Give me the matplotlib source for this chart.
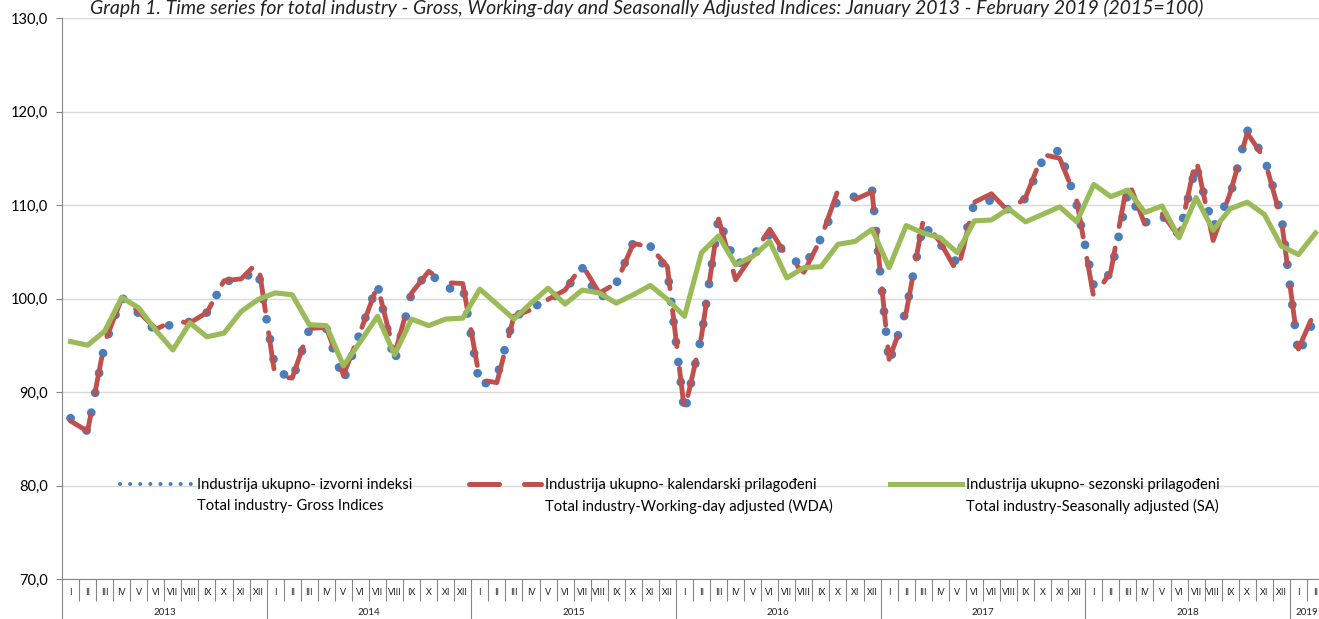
import numpy as np
import matplotlib
matplotlib.use('Agg')
import matplotlib.pyplot as plt
from matplotlib.lines import Line2D
from matplotlib.ticker import FuncFormatter
import matplotlib.transforms as mtransforms

# monthly indices, Jan 2013 - Feb 2019
gross = [87.2, 85.8, 95.0, 100.1, 98.4, 96.5, 97.3, 97.5, 98.5, 101.8, 102.1, 103.0,
         92.5, 91.3, 96.7, 96.8, 91.2, 96.5, 101.5, 93.2, 100.6, 102.9, 101.0, 101.3,
         90.6, 91.6, 98.0, 99.0, 99.8, 100.9, 103.3, 99.9, 101.6, 106.0, 105.6, 103.0,
         87.8, 96.0, 108.6, 103.6, 104.5, 106.9, 104.6, 103.4, 106.4, 110.6, 110.9, 111.6,
         93.1, 98.8, 107.9, 105.8, 103.8, 110.2, 110.5, 109.5, 110.7, 114.8, 115.9, 110.0,
         101.3, 102.7, 111.3, 108.1, 108.9, 106.8, 114.2, 107.6, 111.0, 118.0, 115.1, 108.9,
         94.0, 98.1]
wda = [86.9, 85.8, 95.3, 100.0, 98.6, 96.7, 97.6, 97.4, 98.5, 101.9, 102.1, 103.9,
       91.6, 91.5, 96.8, 96.9, 91.8, 96.5, 101.4, 94.0, 100.6, 102.9, 101.7, 101.6,
       91.3, 91.0, 98.1, 98.8, 99.9, 100.9, 103.6, 100.6, 101.6, 105.9, 105.5, 103.4,
       88.0, 96.0, 108.5, 102.0, 104.7, 107.4, 104.5, 102.8, 106.4, 111.6, 110.6, 111.4,
       93.5, 98.5, 108.4, 106.0, 102.8, 110.3, 111.2, 109.3, 110.8, 115.4, 115.0, 110.5,
       100.1, 102.9, 112.7, 107.9, 109.1, 106.6, 115.0, 106.2, 111.3, 117.7, 115.0, 108.4,
       94.6, 98.8]
sa = [95.4, 95.0, 96.5, 100.1, 99.0, 96.6, 94.5, 97.4, 95.9, 96.3, 98.6, 99.9,
      100.6, 100.4, 97.2, 97.1, 92.8, 95.4, 98.1, 94.0, 97.8, 97.1, 97.8, 97.9,
      101.0, 99.4, 97.8, 99.5, 101.1, 99.4, 100.9, 100.6, 99.5, 100.4, 101.4, 99.9,
      98.1, 104.9, 106.7, 103.6, 104.5, 106.1, 102.2, 103.3, 103.4, 105.8, 106.1, 107.4,
      103.3, 107.8, 107.0, 106.5, 104.9, 108.3, 108.4, 109.6, 108.2, 109.0, 109.8, 108.2,
      112.2, 110.9, 111.6, 109.2, 109.9, 106.5, 110.8, 107.3, 109.6, 110.3, 109.0, 105.6,
      104.7, 107.0]

months = ["I", "II", "III", "IV", "V", "VI", "VII", "VIII", "IX", "X", "XI", "XII"]
years = ["2013", "2014", "2015", "2016", "2017", "2018", "2019"]

labels = [
    "Industrija ukupno- izvorni indeksi", "Total industry- Gross Indices",
    "Industrija ukupno- kalendarski prilagođeni", "Total industry-Working-day adjusted (WDA)",
    "Industrija ukupno- sezonski prilagođeni", "Total industry-Seasonally adjusted (SA)",
]
title = ("Graph 1. Time series for total industry - Gross, Working-day and Seasonally "
         "Adjusted Indices: January 2013 - February 2019 (2015=100)")

BLUE = "#4a7ebb"
RED = "#c0504d"
GREEN = "#9bbb59"
GREY = "#868686"

plt.rcParams['font.family'] = ['Lato', 'DejaVu Sans']

fig = plt.figure(figsize=(13.19, 6.19), dpi=100)
ax = fig.add_axes([62 / 1319, 1 - 579 / 619, 1262 / 1319, 561 / 619])

n = len(gross)
x = np.arange(n) + 0.5

ax.plot(x, gross, color=BLUE, lw=6.3, linestyle=(0, (0.01, 2.3)),
        dash_capstyle='round', solid_joinstyle='round', zorder=3)
ax.plot(x, wda, color=RED, lw=3.5, linestyle=(0, (7.5, 4.5)),
        dash_capstyle='round', dash_joinstyle='round', zorder=4)
ax.plot(x, sa, color=GREEN, lw=3.7, solid_joinstyle='round', zorder=5)

ax.set_xlim(0, n)
ax.set_ylim(70, 130)
ax.set_yticks(np.arange(70, 131, 10))
ax.yaxis.set_major_formatter(FuncFormatter(lambda v, p: f"{v:.1f}".replace(".", ",")))
ax.grid(axis='y', color="#d9d9d9", lw=1.0, zorder=0)
ax.set_axisbelow(True)

for s in ['top', 'right']:
    ax.spines[s].set_visible(False)
ax.spines['left'].set_color(GREY)
ax.spines['bottom'].set_color(GREY)

ax.tick_params(axis='y', length=4, color=GREY, labelsize=10.5, pad=6)
ax.set_xticks(np.arange(0, n + 1, 12))
ax.set_xticks(np.arange(0, n + 1), minor=True)
ax.set_xticklabels([])
ax.tick_params(axis='x', which='major', length=29, color=GREY, width=0.8)
ax.tick_params(axis='x', which='minor', length=16, color=GREY, width=0.8)

trans = mtransforms.blended_transform_factory(ax.transData, ax.transAxes)
for i in range(n):
    ax.text(i + 0.5, -0.0235, months[i % 12], transform=trans, ha='center',
            va='center', fontsize=6.5, color='#222222')
for k, yr in enumerate(years):
    start = k * 12
    end = min(start + 12, n)
    ax.text((start + end) / 2, -0.059, yr, transform=trans, ha='center',
            va='center', fontsize=7, color='#222222')

# legend: first line with sample, second line under it
h_gross = Line2D([], [], color=BLUE, lw=2.9, linestyle=(0, (0.01, 2.5)), dash_capstyle='round')
h_wda = Line2D([], [], color=RED, lw=3.6, linestyle=(0, (6.0, 5.0)), dash_capstyle='round')
h_sa = Line2D([], [], color=GREEN, lw=3.6)
blank = Line2D([], [], color='none')
fig.legend([h_gross, blank, h_wda, blank, h_sa, blank], labels, ncol=3,
           loc='upper left', bbox_to_anchor=(120 / 1319, 1 - 478 / 619),
           frameon=False, fontsize=10.6, handlelength=4.9, handletextpad=0.3,
           columnspacing=3.85, labelspacing=0.45, borderpad=0, borderaxespad=0)

fig.text(0.49, 1 - 14 / 619, title, ha='center', va='baseline', fontsize=14.0,
         style='italic', color='#222222')

fig.savefig("out.png", dpi=100)
